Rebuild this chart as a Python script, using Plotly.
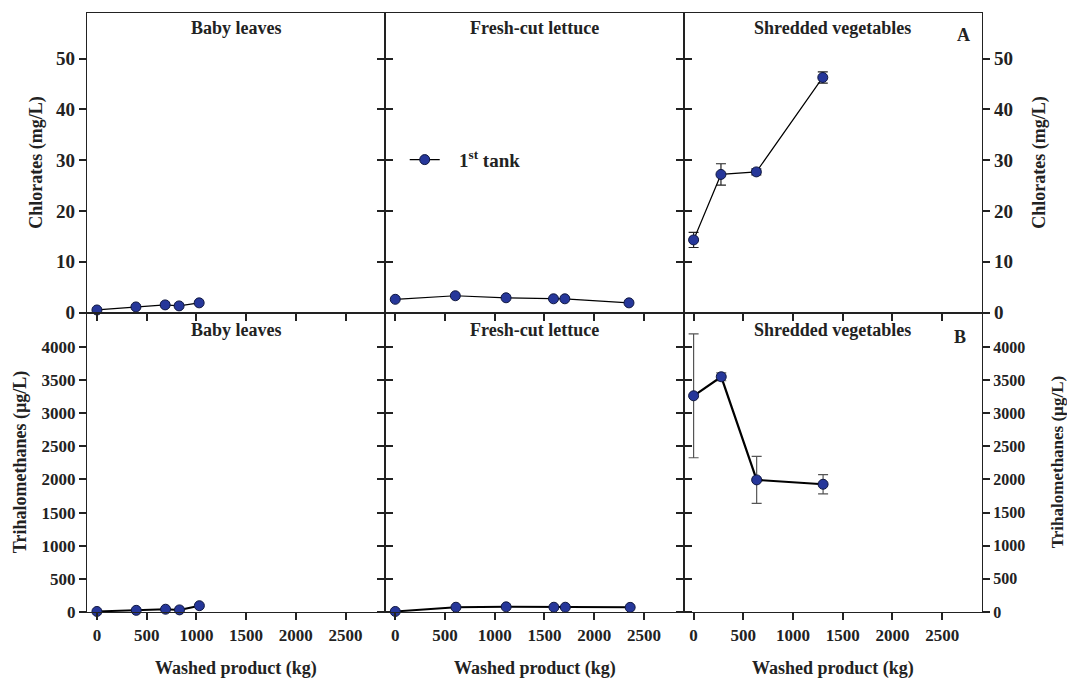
import plotly.graph_objects as go
from plotly.subplots import make_subplots

# ---- data ----
panel_titles = ["Baby leaves", "Fresh-cut lettuce", "Shredded vegetables"]

baby_x_chl = [0, 392, 686, 826, 1028]
baby_chl = [0.5, 1.1, 1.5, 1.3, 1.9]
baby_x_thm = [0, 395, 690, 830, 1030]
baby_thm = [8, 25, 42, 32, 95]

lett_x_chl = [0, 604, 1114, 1591, 1705, 2350]
lett_chl = [2.6, 3.3, 2.9, 2.7, 2.7, 1.9]
lett_x_thm = [0, 610, 1115, 1595, 1710, 2362]
lett_thm = [8, 72, 78, 72, 72, 70]

shr_x_chl = [0, 275, 631, 1299]
shr_chl = [14.3, 27.2, 27.7, 46.3]
shr_chl_err = [1.5, 2.1, 0.6, 1.1]
shr_x_thm = [0, 278, 634, 1302]
shr_thm = [3263, 3550, 1994, 1928]
shr_thm_err = [935, 60, 355, 145]

x_ticks = [0, 500, 1000, 1500, 2000, 2500]
chl_ticks = [0, 10, 20, 30, 40, 50]
thm_ticks = [0, 500, 1000, 1500, 2000, 2500, 3000, 3500, 4000]

FONT = "Liberation Serif"
MK = "#26379a"
INK = "#222222"

fig = make_subplots(rows=2, cols=3, horizontal_spacing=0, vertical_spacing=0)


def add(x, y, row, col, err=None, lw=1.2, ecol="#333333", legend=False):
    ed = None
    if err is not None:
        ed = dict(type="data", array=err, visible=True, color=ecol,
                  thickness=1.2, width=5)
    fig.add_trace(go.Scatter(
        x=x, y=y, mode="lines+markers",
        name="&nbsp;&nbsp;&nbsp;1<sup>st</sup> tank",
        showlegend=legend, error_y=ed, cliponaxis=False,
        line=dict(color="black", width=lw),
        marker=dict(color=MK, size=10, line=dict(color="#101840", width=1)),
    ), row=row, col=col)


add(baby_x_chl, baby_chl, 1, 1)
add(lett_x_chl, lett_chl, 1, 2, legend=True)
add(shr_x_chl, shr_chl, 1, 3, err=shr_chl_err, ecol="#222222")
add(baby_x_thm, baby_thm, 2, 1, lw=2)
add(lett_x_thm, lett_thm, 2, 2, lw=2)
add(shr_x_thm, shr_thm, 2, 3, err=shr_thm_err, lw=2.2, ecol="#555555")


def f(size):
    return dict(family=FONT, size=size, color=INK, weight="bold")


ytick_sizes = {(1, 1): 19, (1, 3): 19, (2, 1): 17, (2, 3): 16}

for r in (1, 2):
    for c in (1, 2, 3):
        fig.update_xaxes(
            range=[-100, 2900], tickvals=x_ticks, ticks="outside", ticklen=7,
            tickwidth=1.5, tickcolor=INK, showline=True, linecolor=INK,
            linewidth=1.3, mirror=True, showgrid=False, zeroline=False,
            showticklabels=(r == 2), tickfont=f(17), row=r, col=c)
        yr = [0, 59] if r == 1 else [0, 4520]
        yt = chl_ticks if r == 1 else thm_ticks
        fig.update_yaxes(
            range=yr, tickvals=yt, ticks="outside", ticklen=7, tickwidth=1.5,
            tickcolor=INK, showline=True, linecolor=INK, linewidth=1.3,
            mirror="ticks", showgrid=False, zeroline=False,
            showticklabels=(c != 2), side=("right" if c == 3 else "left"),
            tickfont=f(ytick_sizes.get((r, c), 17)), row=r, col=c)

ann = []
centers = [1 / 6, 0.5, 5 / 6]
for i, t in enumerate(panel_titles):
    ann.append(dict(text=t, x=centers[i], y=1.0, xref="paper", yref="paper",
                    xanchor="center", yanchor="top", yshift=-3,
                    showarrow=False, font=f(18)))
    ann.append(dict(text=t, x=centers[i], y=0.5, xref="paper", yref="paper",
                    xanchor="center", yanchor="top", yshift=-5,
                    showarrow=False, font=f(18)))
    ann.append(dict(text="Washed product (kg)", x=centers[i], y=0,
                    xref="paper", yref="paper", xanchor="center",
                    yanchor="middle", yshift=-56, showarrow=False,
                    font=f(18)))

ann.append(dict(text="A", x=0.979, xref="paper", y=1 - (35 - 13) / 599,
                yref="paper", xanchor="center", yanchor="middle",
                showarrow=False, font=f(18)))
ann.append(dict(text="B", x=0.975, xref="paper", y=1 - (337 - 13) / 599,
                yref="paper", xanchor="center", yanchor="middle",
                showarrow=False, font=f(18)))

# y titles
ytitles = [("Chlorates (mg/L)", 0, -50, 0.75, 18),
           ("Trihalomethanes (µg/L)", 0, -67, 0.25, 18),
           ("Chlorates (mg/L)", 1, 58, 0.75, 18),
           ("Trihalomethanes (µg/L)", 1, 75, 0.25, 17)]
for txt, xp, xs, yp, fs in ytitles:
    ann.append(dict(text=txt, textangle=-90, x=xp, xshift=xs, y=yp,
                    xref="paper", yref="paper", xanchor="center",
                    yanchor="middle", showarrow=False, font=f(fs)))

fig.update_layout(
    width=1067, height=678,
    margin=dict(l=87, r=85, t=13, b=66, autoexpand=False),
    paper_bgcolor="white", plot_bgcolor="white",
    font=dict(family=FONT, color=INK),
    annotations=ann,
    legend=dict(x=0.355, y=0.755, xref="paper", yref="paper",
                xanchor="left", yanchor="middle",
                bgcolor="rgba(0,0,0,0)", font=f(19)),
)

fig.write_html("out.html", config={"displayModeBar": False},
               post_script="document.body.style.margin='0';"
                           "document.body.style.overflow='hidden';")
